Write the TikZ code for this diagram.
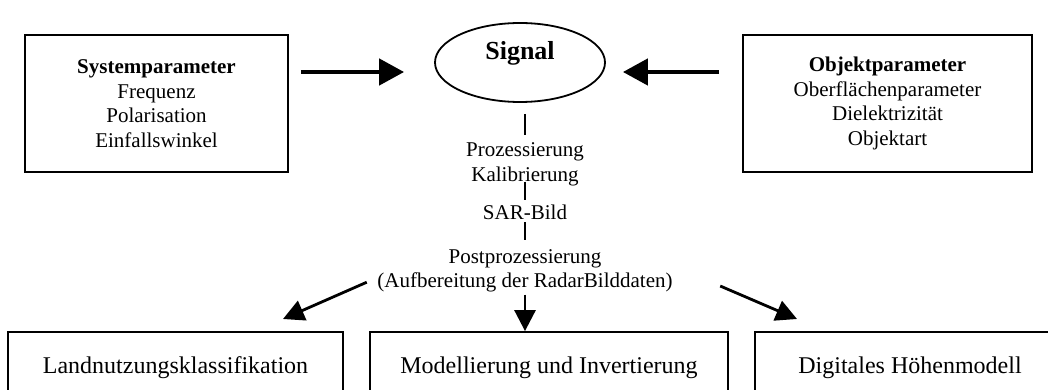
\documentclass[tikz,border=0pt]{standalone}
\usepackage{fontspec}
\setmainfont{Liberation Serif}
\usetikzlibrary{shapes.geometric}
\usetikzlibrary{arrows.meta, positioning}

\begin{document}
\begin{tikzpicture}[x=1pt, y=-1pt,
    parbox/.style={draw, line width=1.8pt, align=center,
        minimum width=263pt, minimum height=137pt,
        font=\fontsize{21}{24.5}\selectfont},
    stage/.style={align=center, inner sep=0pt,
        font=\fontsize{21}{24.5}\selectfont},
    resbox/.style={draw, line width=1.8pt, minimum height=72pt,
        font=\fontsize{24}{28}\selectfont},
    link/.style={line width=2.8pt},
    bigarrow/.style={line width=4.5pt, -{Triangle[length=25pt,width=26pt]}},
    outarrow/.style={line width=2.8pt, -{Triangle[length=21pt,width=21pt]}}]
    \useasboundingbox (0,0) rectangle (1048,390);

    \node[parbox] (sys) at (156.5,103.5)
        {\textbf{Systemparameter}\\Frequenz\\Polarisation\\Einfallswinkel};
    \node[parbox, minimum width=289pt] (obj) at (887.5,103.5)
        {\textbf{Objektparameter}\\Oberflächenparameter\\Dielektrizität\\Objektart};
    \node[draw, ellipse, line width=1.8pt, minimum width=170pt, minimum height=79pt,
        inner sep=0pt, text depth=24.6pt, font=\bfseries\fontsize{26}{30}\selectfont]
        (signal) at (520,62.5) {Signal};

    \node[stage] (proz) at (525,164.4) {Prozessierung\\Kalibrierung};
    \node[stage] (sar) at (525,211.9) {SAR-Bild};
    \node[stage] (post) at (525,270.6)
        {Postprozessierung\\(Aufbereitung der RadarBilddaten)};

    \node[resbox, minimum width=335pt] (land) at (175.5,368) {Landnutzungsklassifikation};
    \node[resbox, minimum width=358pt] (model) at (549,368) {Modellierung und Invertierung};
    \node[resbox, minimum width=310pt] (dhm) at (910,368) {Digitales Höhenmodell};

    % Eingangsgroessen
    \draw[bigarrow] ([shift={(12,-31.5)}]sys.east) -- ([shift={(-30,9.5)}]signal.west);
    \draw[bigarrow] ([shift={(-23,-31.5)}]obj.west) -- ([shift={(17,9.5)}]signal.east);

    % Verarbeitungskette
    \draw[link, shorten <=11pt, shorten >=7.7pt] (signal.south -| proz.north) -- (proz.north);
    \draw[link, shorten <=-4.4pt, shorten >=4.7pt] (proz.south) -- (sar.north);
    \draw[link, shorten <=3pt, shorten >=8.7pt] (sar.south) -- (post.north);

    % Anwendungen
    \coordinate (landtip) at (283,319);
    \coordinate (dhmtip) at (797,319);
    \draw[outarrow, shorten <=2.4pt] (post.south) -- (post.south |- model.north);
    \draw[outarrow, shorten <=11.5pt] ([yshift=-7pt]post.west) -- (landtip);
    \draw[outarrow, shorten <=51.7pt] ([yshift=5pt]post.east) -- (dhmtip);
\end{tikzpicture}
\end{document}
